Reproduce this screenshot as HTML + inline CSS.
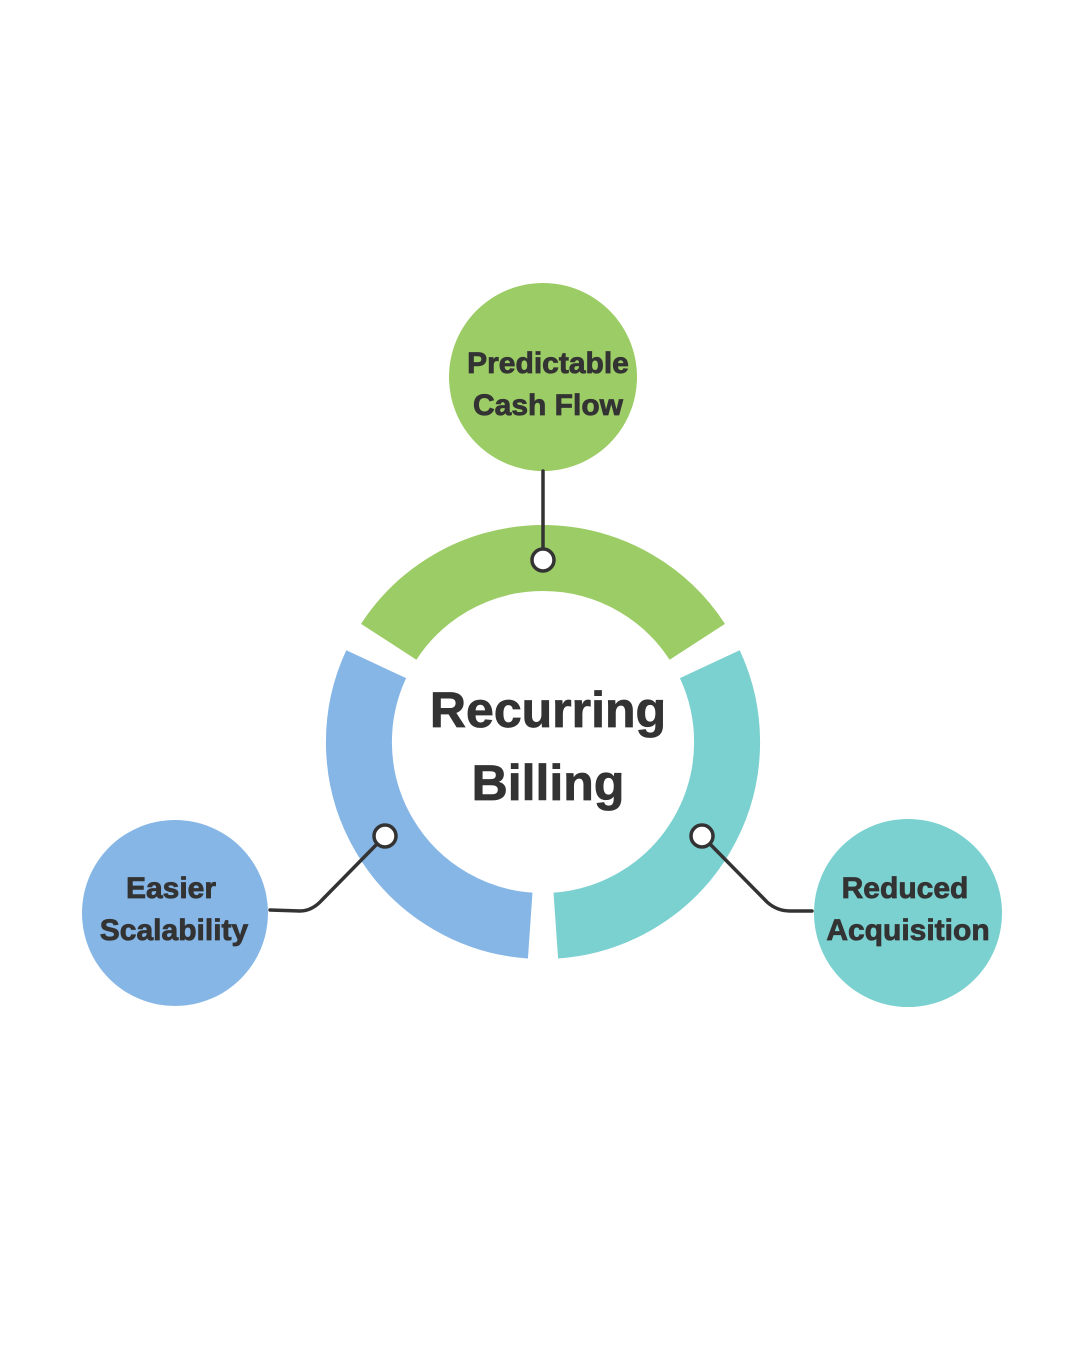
<!DOCTYPE html>
<html><head><meta charset="utf-8"><style>
html,body{margin:0;padding:0;background:#fff;}
svg{display:block;}
text{font-family:"Liberation Sans",sans-serif;font-weight:bold;fill:#333;stroke:#333;stroke-width:0.8;text-anchor:middle;}
</style></head><body>
<svg width="1080" height="1350" viewBox="0 0 1080 1350">
<rect width="1080" height="1350" fill="#fff"/>
<g fill="none" stroke-width="66" stroke-linecap="butt">
<path d="M388.7 641.8 A184 184 0 0 1 697.3 641.8" stroke="#9ccc65"/>
<path d="M709.8 664.2 A184 184 0 0 1 555.8 925.6" stroke="#7bd0d0"/>
<path d="M530.2 925.6 A184 184 0 0 1 376.2 664.2" stroke="#86b6e6"/>
</g>
<circle cx="543" cy="377" r="94" fill="#9ccc65"/>
<circle cx="175" cy="913" r="93" fill="#86b6e6"/>
<circle cx="908" cy="913" r="94" fill="#7bd0d0"/>
<g fill="none" stroke="#333" stroke-width="3.5" stroke-linecap="round">
<path d="M543 471 L543 549"/>
<path d="M378 843 L322 900 Q312 911 300 911 L270 910"/>
<path d="M709 843 L767 902 Q777 911 790 911 L812 911"/>
</g>
<g fill="#fff" stroke="#333" stroke-width="3.5">
<circle cx="543" cy="560" r="11"/>
<circle cx="385" cy="836" r="11"/>
<circle cx="702" cy="836" r="11"/>
</g>
<text x="548" y="727" font-size="50">Recurring</text>
<text x="548" y="800" font-size="50">Billing</text>
<text x="548" y="373" font-size="30">Predictable</text>
<text x="548" y="415" font-size="30">Cash Flow</text>
<text x="171" y="898" font-size="30">Easier</text>
<text x="174" y="940" font-size="30">Scalability</text>
<text x="905" y="898" font-size="30">Reduced</text>
<text x="908" y="940" font-size="30">Acquisition</text>
</svg>
</body></html>
